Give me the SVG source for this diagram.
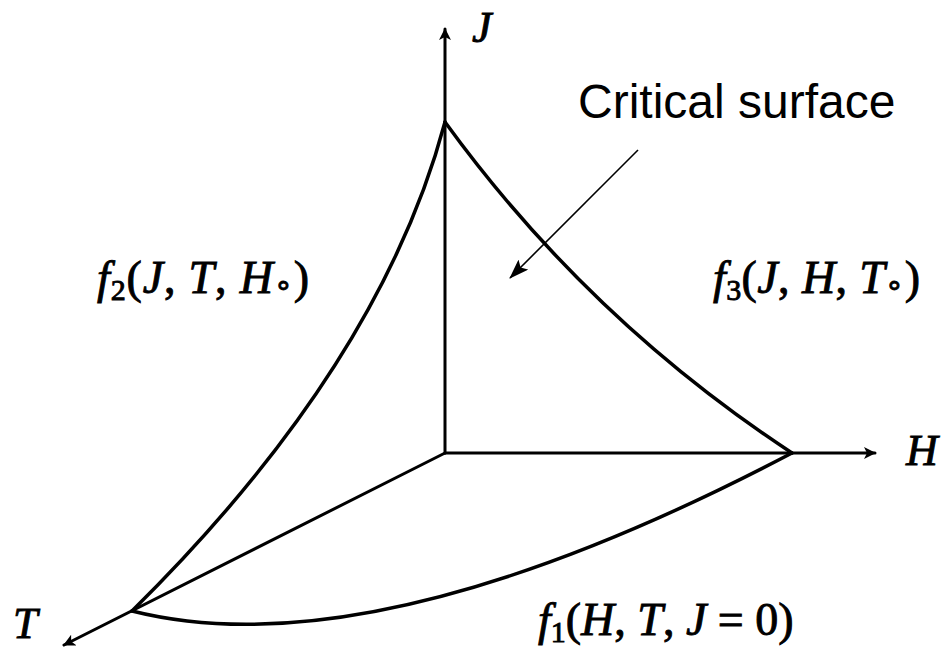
<svg xmlns="http://www.w3.org/2000/svg" width="943" height="654" viewBox="0 0 943 654">
<defs>
<style>
.ax{fill:none;stroke:#000;stroke-width:3;stroke-linecap:round}
.cv{fill:none;stroke:#000;stroke-width:3.5;stroke-linecap:round}
.thin{fill:none;stroke:#000;stroke-width:1.6}
.m{font-family:"Liberation Serif","Times New Roman",serif;font-style:italic;fill:#000;stroke:#000;stroke-width:0.9}
.fl{font-size:46px}
.up{font-style:normal}
.sub{font-style:normal;font-size:30px}
.lbl{font-family:"Liberation Sans",Arial,sans-serif;font-size:48px;fill:#000}
</style>
<marker id="ah" viewBox="0 0 12 12" refX="11" refY="6" markerWidth="12" markerHeight="12" markerUnits="userSpaceOnUse" orient="auto">
<path d="M0,0 L12,6 L0,12 L3,6 Z" fill="#000"/>
</marker>
<marker id="ah2" viewBox="0 0 20 14" refX="19" refY="7" markerWidth="20" markerHeight="14" markerUnits="userSpaceOnUse" orient="auto">
<path d="M0,0 L20,7 L0,14 L4,7 Z" fill="#000"/>
</marker>
</defs>
<g id="connectors">
<line class="ax" x1="445" y1="453" x2="445" y2="29" marker-end="url(#ah)"/>
<line class="ax" x1="445" y1="453" x2="875" y2="453" marker-end="url(#ah)"/>
<line class="ax" x1="445" y1="453" x2="64" y2="645" marker-end="url(#ah)"/>
<path class="cv" d="M445,122 Q380,366 132,611"/>
<path class="cv" d="M445,122 Q588,319 792,453"/>
<path class="cv" d="M132,611 Q375,672 792,453"/>
<line class="thin" x1="638" y1="150" x2="510" y2="278" marker-end="url(#ah2)"/>
</g>
<g id="axis-J"><text class="m" x="472" y="42" font-size="44">J</text></g>
<g id="axis-H"><text class="m" x="906" y="465" font-size="44">H</text></g>
<g id="axis-T"><text class="m" x="13" y="638" font-size="44">T</text></g>
<g id="label-f2"><text class="m fl" x="97" y="293" textLength="212" lengthAdjust="spacing">f<tspan class="sub" dy="7">2</tspan><tspan class="up" dy="-7">(</tspan>J<tspan class="up">, </tspan>T<tspan class="up">, </tspan>H<tspan class="sub" dy="2">∘</tspan><tspan class="up" dy="-2">)</tspan></text></g>
<g id="label-f3"><text class="m fl" x="713" y="293" textLength="207" lengthAdjust="spacing">f<tspan class="sub" dy="7">3</tspan><tspan class="up" dy="-7">(</tspan>J<tspan class="up">, </tspan>H<tspan class="up">, </tspan>T<tspan class="sub" dy="2">∘</tspan><tspan class="up" dy="-2">)</tspan></text></g>
<g id="label-f1"><text class="m fl" x="538" y="635">f<tspan class="sub" dy="7">1</tspan><tspan class="up" dy="-7">(</tspan>H<tspan class="up">, </tspan>T<tspan class="up">, </tspan>J<tspan class="up"> = 0)</tspan></text></g>
<g id="label-critical"><text class="lbl" x="578" y="118">Critical surface</text></g>
</svg>
